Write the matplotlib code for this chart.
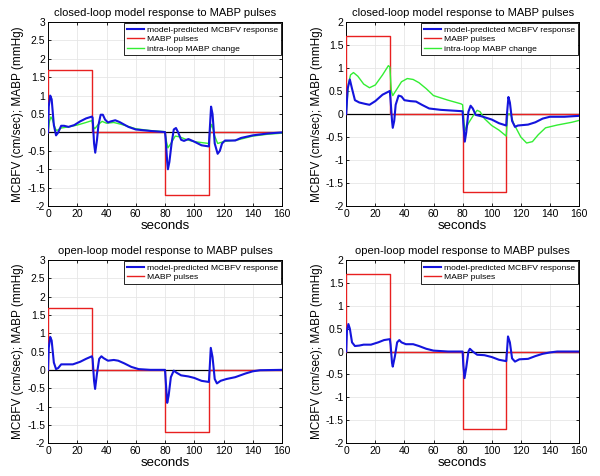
import numpy as np
import matplotlib
matplotlib.use('Agg')
import matplotlib.pyplot as plt

plt.rcParams['font.family'] = ['Liberation Sans', 'DejaVu Sans']

# --- MABP pulse input (same for all panels) ---
pulse_t = [0, 0, 30, 30, 80, 80, 110, 110, 160]
pulse_v = [0, 1.7, 1.7, 0, 0, -1.7, -1.7, 0, 0]

# --- closed-loop, left ---
cl1_t = [0, 0.5, 1.5, 2.5, 4, 5.5, 7, 9, 11, 14, 18, 22, 26, 30, 30.5, 31.5, 32.3,
         33.5, 34.5, 36, 37.5, 39, 41, 43, 46, 49, 55, 60, 70, 80, 80.5, 81.5, 82,
         83, 84.5, 86, 87.5, 89, 91, 93, 96, 100, 105, 110, 110.5, 111.5, 112.5,
         114, 116, 117.5, 119, 121, 125, 128, 132, 140, 150, 160]
cl1_mcbfv = [0, 0.7, 1.0, 0.9, 0.2, -0.08, 0.0, 0.18, 0.18, 0.15, 0.2, 0.3, 0.38,
             0.43, 0.4, -0.3, -0.55, -0.2, 0.2, 0.48, 0.48, 0.35, 0.27, 0.3, 0.33,
             0.28, 0.15, 0.08, 0.04, 0.01, -0.2, -0.8, -1.0, -0.8, -0.3, 0.08, 0.12,
             0.0, -0.2, -0.23, -0.18, -0.25, -0.35, -0.38, 0.0, 0.7, 0.5, -0.3,
             -0.58, -0.5, -0.3, -0.22, -0.22, -0.22, -0.15, -0.08, -0.03, 0.0]
cl1_gt = [0, 1, 2, 3, 5, 6, 9, 14, 20, 26, 30, 31, 32, 34, 37, 40, 45, 50, 60, 70,
          80, 81, 82, 84, 87, 90, 95, 100, 110, 111, 112, 114, 116, 120, 130, 140,
          150, 160]
cl1_intra = [0, 0.3, 0.42, 0.35, 0.1, 0.05, 0.12, 0.15, 0.2, 0.27, 0.32, 0.15, 0.1,
             0.2, 0.3, 0.25, 0.27, 0.22, 0.1, 0.05, 0.02, -0.25, -0.42, -0.3, -0.1,
             -0.12, -0.2, -0.25, -0.3, 0.1, 0.22, -0.1, -0.3, -0.25, -0.2, -0.1,
             -0.05, -0.02]

# --- closed-loop, right ---
cl2_t = [0, 1, 2.5, 4, 6, 9, 13, 16, 20, 25, 30, 30.5, 31.5, 32, 33, 34, 36, 38, 40,
         44, 48, 52, 57, 65, 75, 80, 80.5, 81.5, 82.5, 84, 85.5, 87, 89, 93, 100,
         105, 110, 110.5, 111.5, 112.5, 114, 116, 118, 125, 130, 135, 140, 150, 160]
cl2_mcbfv = [0, 0.55, 0.75, 0.55, 0.3, 0.25, 0.22, 0.2, 0.28, 0.42, 0.5, 0.3, -0.15,
             -0.3, -0.15, 0.2, 0.4, 0.38, 0.3, 0.28, 0.27, 0.2, 0.12, 0.09, 0.07,
             0.06, -0.2, -0.6, -0.4, 0.05, 0.18, 0.12, -0.02, -0.05, -0.12, -0.2,
             -0.25, 0.0, 0.37, 0.25, -0.15, -0.28, -0.25, -0.23, -0.18, -0.1, -0.06,
             -0.06, -0.04]
cl2_gt = [0, 1.5, 3, 5, 8, 12, 16, 20, 25, 29, 30, 31, 32, 34, 38, 42, 46, 50, 55,
          60, 70, 79, 80, 81, 82, 84, 87, 90, 92, 95, 100, 105, 110, 111, 113, 115,
          120, 124, 128, 132, 137, 145, 155, 160]
cl2_intra = [0, 0.65, 0.85, 0.9, 0.82, 0.65, 0.57, 0.63, 0.85, 1.05, 1.02, 0.5, 0.4,
             0.5, 0.7, 0.77, 0.75, 0.68, 0.55, 0.4, 0.3, 0.22, 0.2, -0.2, -0.35,
             -0.2, -0.05, 0.08, 0.05, -0.1, -0.25, -0.35, -0.48, 0.0, 0.0, -0.2,
             -0.5, -0.63, -0.6, -0.45, -0.3, -0.24, -0.18, -0.14]

# --- open-loop, left ---
ol1_t = [0, 0.5, 1.5, 2.5, 4, 5.5, 7, 9, 12, 17, 22, 26, 30, 30.5, 31.5, 32.2, 33.5,
         35, 36.5, 38, 41, 45, 48, 52, 57, 62, 70, 80, 80.5, 81.5, 82.5, 84, 86, 88,
         91, 96, 100, 105, 110, 110.5, 111.3, 112.5, 114, 115.5, 118, 122, 128,
         135, 140, 145, 160]
ol1_mcbfv = [0, 0.6, 0.9, 0.8, 0.2, 0.02, 0.05, 0.15, 0.15, 0.15, 0.22, 0.3, 0.37,
             0.3, -0.3, -0.52, -0.1, 0.3, 0.37, 0.32, 0.25, 0.27, 0.25, 0.18, 0.08,
             0.02, 0.0, 0.0, -0.3, -0.9, -0.7, -0.2, -0.02, -0.08, -0.15, -0.18,
             -0.22, -0.3, -0.33, 0.0, 0.6, 0.35, -0.25, -0.37, -0.3, -0.25, -0.2,
             -0.1, -0.04, -0.01, 0.0]

# --- open-loop, right ---
ol2_t = [0, 0.5, 1.5, 2.5, 4, 6, 9, 12, 17, 22, 26, 30, 30.5, 31.5, 32, 33.5, 35,
         36.5, 38, 41, 46, 50, 55, 60, 70, 80, 80.5, 81.3, 82.5, 84, 85, 87, 90, 95,
         100, 105, 110, 110.5, 111.2, 112.5, 114, 116, 119, 125, 130, 135, 140,
         145, 160]
ol2_mcbfv = [0, 0.45, 0.6, 0.5, 0.2, 0.12, 0.13, 0.15, 0.15, 0.2, 0.25, 0.27, 0.15,
             -0.25, -0.33, -0.1, 0.2, 0.25, 0.2, 0.16, 0.16, 0.12, 0.06, 0.02, 0.0,
             0.0, -0.3, -0.58, -0.35, 0.0, 0.06, 0.0, -0.07, -0.08, -0.12, -0.18,
             -0.21, 0.0, 0.33, 0.2, -0.15, -0.22, -0.17, -0.16, -0.1, -0.05, -0.02,
             0.0, 0.0]

panels = [
    ([0.08, 0.567, 0.39, 0.387], 'closed-loop model response to MABP pulses',
     (cl1_t, cl1_mcbfv), (cl1_gt, cl1_intra), (-2, 3)),
    ([0.577, 0.567, 0.388, 0.387], 'closed-loop model response to MABP pulses',
     (cl2_t, cl2_mcbfv), (cl2_gt, cl2_intra), (-2, 2)),
    ([0.08, 0.069, 0.39, 0.385], 'open-loop model response to MABP pulses',
     (ol1_t, ol1_mcbfv), None, (-2, 3)),
    ([0.577, 0.069, 0.388, 0.385], 'open-loop model response to MABP pulses',
     (ol2_t, ol2_mcbfv), None, (-2, 2)),
]

fig = plt.figure(figsize=(6, 4.76), dpi=100)

for rect, title, blue, green, ylim in panels:
    ax = fig.add_axes(rect)
    ax.axhline(0, color='black', lw=0.9, zorder=2)
    ax.plot(blue[0], blue[1], color='#1414dd', lw=1.5, zorder=5,
            label='model-predicted MCBFV response')
    ax.plot(pulse_t, pulse_v, color='#e82020', lw=1.0, zorder=3,
            label='MABP pulses')
    if green is not None:
        ax.plot(green[0], green[1], color='#33ee33', lw=1.0, zorder=4,
                label='intra-loop MABP change')
    ax.set_xlim(0, 160)
    ax.set_ylim(*ylim)
    ax.set_xticks(np.arange(0, 161, 20))
    yt = np.arange(ylim[0], ylim[1] + 0.01, 0.5)
    ax.set_yticks(yt)
    ax.set_yticklabels(['%g' % v for v in yt])
    ax.grid(True, color='#e6e6e6', lw=0.6)
    ax.set_axisbelow(True)
    ax.tick_params(labelsize=7.5, direction='in', length=2, width=0.6, pad=2,
                   top=True, right=True)
    for s in ax.spines.values():
        s.set_linewidth(0.7)
    ax.set_title(title, fontsize=8, pad=4)
    ax.set_xlabel('seconds', fontsize=9.5, labelpad=1)
    ax.set_ylabel('MCBFV (cm/sec); MABP (mmHg)', fontsize=8.5, labelpad=2)
    leg = ax.legend(loc='upper right', fontsize=6.1, fancybox=False,
                    edgecolor='black', framealpha=1, borderaxespad=0.15,
                    handlelength=2.0, labelspacing=0.2, borderpad=0.3,
                    handletextpad=0.4)
    leg.get_frame().set_linewidth(0.6)

fig.savefig('out.png', dpi=100)
